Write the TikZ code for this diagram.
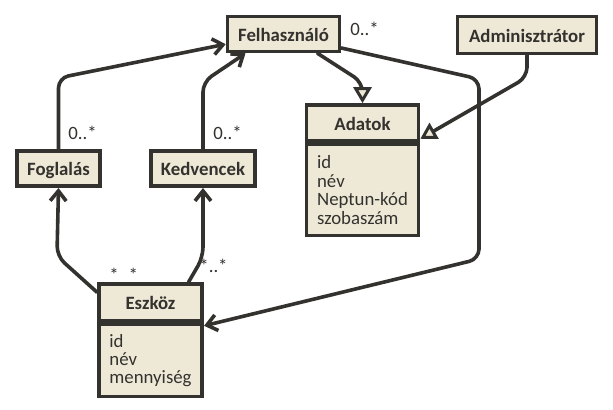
\documentclass[tikz,border=0pt]{standalone}
\usepackage{fontspec}
\setmainfont{Carlito}
\usetikzlibrary{arrows.meta}
\definecolor{umlink}{HTML}{33322E}
\definecolor{umlfill}{HTML}{EEE8D6}

\begin{document}
\begin{tikzpicture}[x=0.5pt, y=-0.5pt,
  box/.style={draw=umlink, fill=umlfill, line width=1.8pt, text=umlink, inner sep=0pt, font=\fontsize{9.4pt}{9.2pt}\selectfont},
  title/.style={box, font=\fontsize{9.4pt}{9.2pt}\selectfont\bfseries, text height=7.3pt, text depth=0pt},
  attrs/.style={box, align=left},
  mult/.style={inner sep=0pt, text=umlink, font=\fontsize{9.4pt}{9.2pt}\selectfont},
  link/.style={draw=umlink, line width=1.8pt, rounded corners=5pt, line cap=round},
  assoc/.style={link, -{Straight Barb[length=5pt, width=8pt]}},
  gen/.style={link, -{Triangle[open, length=8pt, width=9pt, line width=1.5pt, fill=umlfill]}}]
  \useasboundingbox (0,0) rectangle (613,410);

  \node (felhasznalo) [title, minimum width=56pt, minimum height=17.5pt] at (283.5,34) {Felhasználó};
  \node (admin) [title, minimum width=69.5pt, minimum height=18.5pt] at (527,35) {Adminisztrátor};
  \node (adatok) [title, minimum width=56pt, minimum height=18pt] at (362.5,123) {Adatok};
  \node (adatokattr) [attrs, minimum width=56pt, minimum height=45.5pt, anchor=north] at (adatok.south) {id\\név\\Neptun-kód\\szobaszám};
  \node (foglalas) [title, minimum width=41.75pt, minimum height=17.75pt] at (58.5,168.5) {Foglalás};
  \node (kedvencek) [title, minimum width=52.25pt, minimum height=17.75pt] at (203,168.5) {Kedvencek};
  \node (eszkoz) [title, minimum width=51.75pt, minimum height=18.5pt] at (150.5,302.5) {Eszköz};
  \node (eszkozattr) [attrs, minimum width=51.75pt, minimum height=36pt, anchor=north] at (eszkoz.south) {id\\név\\mennyiség};

  \node (m1) [mult, anchor=base west] at (350,36) {0..*};
  \node (m2) [mult, anchor=base west] at (68,140) {0..*};
  \node (m3) [mult, anchor=base west] at (213,140) {0..*};
  \node (m4) [mult, anchor=base west] at (109,281) {*\hspace{5pt}*};
  \node (m5) [mult, anchor=base west] at (199,272) {*..*};

  \draw[assoc] (foglalas.north) -- ++(0,-71) -- (felhasznalo.190);
  \draw[assoc] (kedvencek.north) -- ++(0,-67) -- ([xshift=-19pt]felhasznalo.south);
  \draw[gen] ([xshift=17pt]felhasznalo.south) -- ++(45,29) -- (adatok.north);
  \draw[gen] (admin.south) -- ++(0,22) -- ([yshift=2pt]adatok.south east);
  \draw[assoc] ([yshift=-7pt]felhasznalo.east) -- (479,79) -- (479,259) -- ([yshift=-1.5pt]eszkozattr.north east);
  \draw[assoc] ([yshift=-5pt]eszkoz.north west) -- ++(-40,-36) -- (foglalas.south);
  \draw[assoc] ([xshift=19pt]eszkoz.north) -- ++(14.5,-25) -- (kedvencek.south);
\end{tikzpicture}
\end{document}
